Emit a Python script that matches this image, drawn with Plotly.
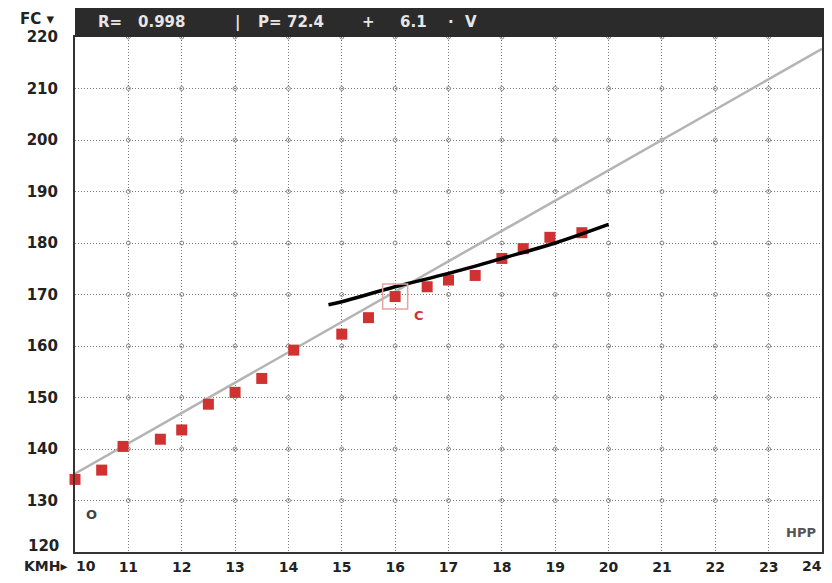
import plotly.graph_objects as go

# ---- data ----
speed = [10.0, 10.5, 10.9, 11.6, 12.0, 12.5, 13.0, 13.5, 14.1, 15.0,
         15.5, 16.0, 16.6, 17.0, 17.5, 18.0, 18.4, 18.9, 19.5]
heart_rate = [134.1, 135.9, 140.5, 141.9, 143.7, 148.7, 151.0, 153.7, 159.2, 162.3,
              165.5, 169.6, 171.5, 172.8, 173.7, 177.0, 178.9, 181.1, 182.0]
fit_x = [10, 24]
fit_y = [135.2, 217.7]
curve_x = [14.75, 15.0, 16.0, 17.0, 18.0, 19.0, 20.0]
curve_y = [168.0, 168.6, 171.5, 174.1, 177.0, 180.0, 183.6]
deflection_x = [16.0]
deflection_y = [169.6]
x_ticks = list(range(10, 25))
y_ticks = list(range(120, 221, 10))

# page is offset by the 8px body margin of the html page
OFF = 8
W, H = 816, 567
ML, MR, MT, MB = 67, 2, 29, 23
PW, PH = W - ML - MR, H - MT - MB


def px(x):
    return (x - OFF - ML) / PW


def py(y):
    return (H - MB - (y - OFF)) / PH


FONT = "DejaVu Sans"
TXT = "#222222"

fig = go.Figure()

# small circles at grid intersections
gx = [x for x in x_ticks[1:-1] for _ in y_ticks[1:]]
gy = [y for _ in x_ticks[1:-1] for y in y_ticks[1:]]
fig.add_trace(go.Scatter(x=gx, y=gy, mode="markers",
                         marker=dict(symbol="circle-open", size=4, color="#8c8c8c",
                                     line=dict(width=1)),
                         hoverinfo="skip", showlegend=False, cliponaxis=False))

fig.add_trace(go.Scatter(x=fit_x, y=fit_y, mode="lines",
                         line=dict(color="#b4b4b4", width=2.5),
                         hoverinfo="skip", showlegend=False))
fig.add_trace(go.Scatter(x=speed, y=heart_rate, mode="markers",
                         marker=dict(symbol="square", size=11, color="#d03232"),
                         showlegend=False, cliponaxis=False))
fig.add_trace(go.Scatter(x=curve_x, y=curve_y, mode="lines",
                         line=dict(color="#000000", width=3.5, shape="spline"),
                         showlegend=False))
fig.add_trace(go.Scatter(x=deflection_x, y=deflection_y, mode="markers",
                         marker=dict(symbol="square-open", size=25, color="#e3a3a3",
                                     line=dict(color="#e3a3a3", width=1.5)),
                         showlegend=False))

# header bar
fig.add_shape(type="rect", xref="paper", yref="paper",
              x0=0, x1=px(OFF + W), y0=1, y1=py(OFF),
              fillcolor="#2b2b2b", line=dict(width=0), layer="above")

ann = []


def text(t, x, y, anchor="left", size=15, color=TXT, yanchor="middle"):
    ann.append(dict(text=t, x=px(x), y=py(y), xref="paper", yref="paper",
                    xanchor=anchor, yanchor=yanchor, showarrow=False,
                    font=dict(family=FONT, size=size, color=color, weight="bold")))


hc = "#e6e6e6"
text("R=", 96, 22, color=hc)
text("0.998", 136, 22, color=hc)
text("|", 233, 22, color=hc)
text("P=", 256, 22, color=hc)
text("72.4", 285, 22, color=hc)
text("+", 360, 22, color=hc)
text("6.1", 398, 22, color=hc)
text("·", 446, 22, color=hc)
text("V", 463, 22, color=hc)

text("FC ▾", 18, OFF, yanchor="top", size=15)
text(str(y_ticks[0]), 61, 546, anchor="right", size=15)
text("KMH▸", 70, 566, anchor="right", size=14)
text(str(x_ticks[0]), 86, 566, anchor="center", size=14)
text(str(x_ticks[-1]), 812, 566, anchor="center", size=14)
text("O", 91, 514, anchor="center", size=13, color="#444444")
text("C", 419, 315, anchor="center", size=13, color="#d03232")
text("HPP", 818, 532, anchor="right", size=13, color="#555555")

fig.update_layout(
    width=W, height=H,
    margin=dict(l=ML, r=MR, t=MT, b=MB, autoexpand=False),
    paper_bgcolor="white", plot_bgcolor="white",
    showlegend=False,
    annotations=ann,
    font=dict(family=FONT, size=15, color=TXT, weight="bold"),
)
grid = dict(showgrid=True, gridcolor="#7a7a7a", griddash="1px,2px", gridwidth=1,
            showline=True, linecolor="#333333", linewidth=2, mirror=True,
            zeroline=False, automargin=False)
fig.update_xaxes(range=[10, 24], tickvals=x_ticks[1:-1],
                 ticktext=[str(v) for v in x_ticks[1:-1]],
                 ticks="", ticklabelstandoff=1,
                 tickfont=dict(family=FONT, size=14, color=TXT, weight="bold"),
                 **grid)
fig.update_yaxes(range=[120, 220], tickvals=y_ticks[1:],
                 ticks="outside", tickcolor="rgba(0,0,0,0)", ticklen=12,
                 tickfont=dict(family=FONT, size=15, color=TXT, weight="bold"),
                 **grid)

fig.write_html("out.html")
